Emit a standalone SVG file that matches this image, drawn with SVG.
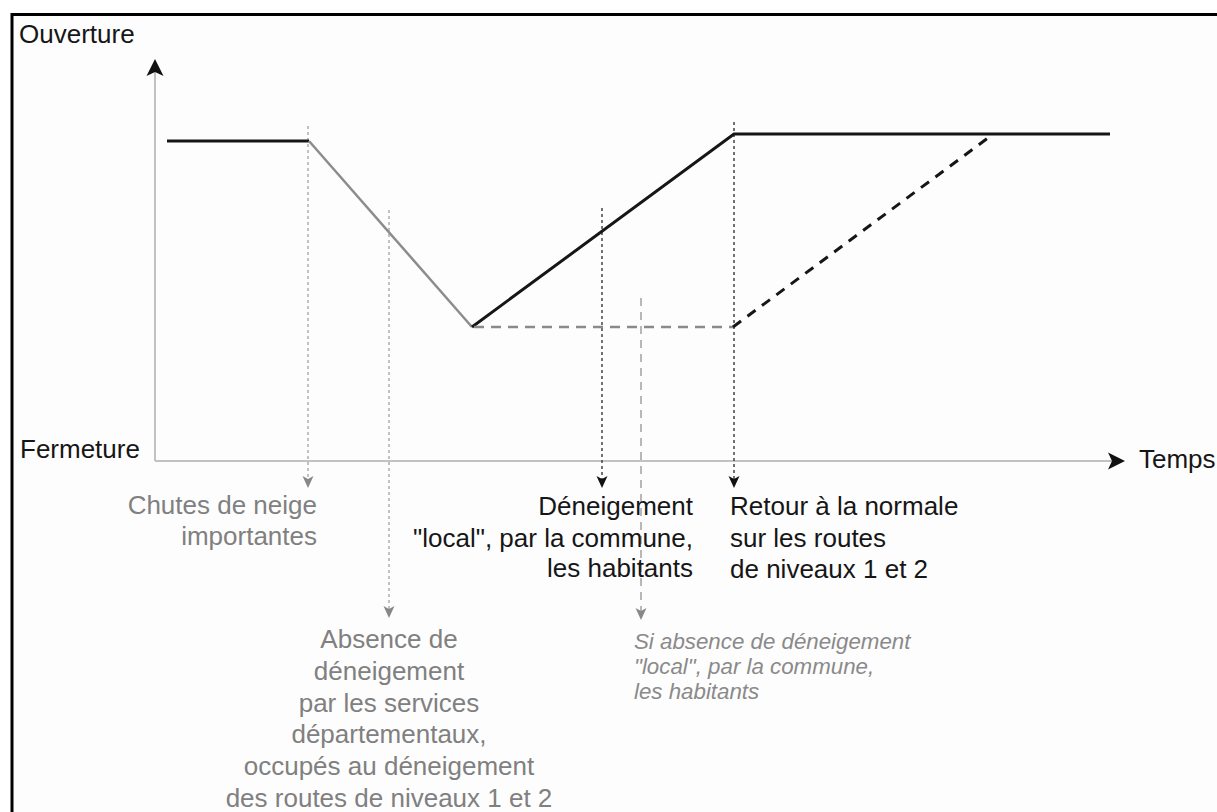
<svg xmlns="http://www.w3.org/2000/svg" width="1217" height="812" viewBox="0 0 1217 812">
<style>
text{font-family:"Liberation Sans",Arial,sans-serif;font-size:26px}
.blk{fill:#161616}
.gry{fill:#808080}
.it{font-style:italic;font-size:22.3px;fill:#8a8a8a}
.axis{stroke:#c2c2c2;stroke-width:2;fill:none}
.solid{stroke:#161616;stroke-width:3;fill:none}
.fall{stroke:#8c8c8c;stroke-width:2.5;fill:none}
.dashg{stroke:#8a8a8a;stroke-width:2.5;fill:none;stroke-dasharray:10 7}
.dashk{stroke:#161616;stroke-width:3;fill:none;stroke-dasharray:10 8}
.dotg{stroke:#9a9a9a;stroke-width:1.2;fill:none;stroke-dasharray:3 3}
.dotk{stroke:#444;stroke-width:1.5;fill:none;stroke-dasharray:3 3}
.lng{stroke:#a0a0a0;stroke-width:1.5;fill:none;stroke-dasharray:8 6}
</style>
<defs>
<marker id="axArr" viewBox="0 -9 17 18" markerWidth="17" markerHeight="18" refX="4" refY="0" orient="auto" markerUnits="userSpaceOnUse"><path d="M0,-8.5 L17,0 L0,8.5 L4,0 Z" fill="#111"/></marker>
<marker id="arK" viewBox="0 -6 12 12" markerWidth="12" markerHeight="12" refX="3" refY="0" orient="auto" markerUnits="userSpaceOnUse"><path d="M0,-5.5 L12,0 L0,5.5 L3,0 Z" fill="#111"/></marker>
<marker id="arG" viewBox="0 -6 12 12" markerWidth="12" markerHeight="12" refX="3" refY="0" orient="auto" markerUnits="userSpaceOnUse"><path d="M0,-5.5 L12,0 L0,5.5 L3,0 Z" fill="#888"/></marker>
</defs>
<rect x="0" y="0" width="1217" height="812" fill="#fff"/>
<rect x="12" y="14.5" width="1230" height="830" fill="#fdfdfd" stroke="#000" stroke-width="3"/>

<g id="connectors">
<line class="axis" x1="155" y1="461" x2="155" y2="72" marker-end="url(#axArr)"/>
<line class="axis" x1="155" y1="461" x2="1112" y2="461" marker-end="url(#axArr)"/>
<line class="dotg" x1="308" y1="126" x2="308" y2="479" marker-end="url(#arG)"/>
<line class="dotg" x1="389" y1="210" x2="389" y2="609" marker-end="url(#arG)"/>
<line class="dotk" x1="602" y1="208" x2="602" y2="479" marker-end="url(#arK)"/>
<line class="lng" x1="641" y1="298" x2="641" y2="611" marker-end="url(#arG)"/>
<line class="dotk" x1="734" y1="122" x2="734" y2="479" marker-end="url(#arK)"/>
<polyline class="solid" points="167,141 309,141"/>
<line class="fall" x1="309" y1="141" x2="472" y2="327"/>
<polyline class="solid" points="472,327 734,134 1110,134"/>
<line class="dashg" x1="474" y1="327" x2="733" y2="327"/>
<line class="dashk" x1="733" y1="327" x2="992" y2="135"/>
</g>

<g id="axis-labels">
<text class="blk" x="19" y="43">Ouverture</text>
<text class="blk" x="20" y="458">Fermeture</text>
<text class="blk" x="1139" y="468">Temps</text>
</g>

<g id="chutes">
<text class="gry" text-anchor="end" x="317" y="514">Chutes de neige</text>
<text class="gry" text-anchor="end" x="317" y="545">importantes</text>
</g>

<g id="absence">
<text class="gry" text-anchor="middle" x="389" y="648">Absence de</text>
<text class="gry" text-anchor="middle" x="389" y="680">déneigement</text>
<text class="gry" text-anchor="middle" x="389" y="712">par les services</text>
<text class="gry" text-anchor="middle" x="389" y="743">départementaux,</text>
<text class="gry" text-anchor="middle" x="389" y="775">occupés au déneigement</text>
<text class="gry" text-anchor="middle" x="389" y="807">des routes de niveaux 1 et 2</text>
</g>

<g id="deneigement">
<text class="blk" text-anchor="end" x="693" y="515">Déneigement</text>
<text class="blk" text-anchor="end" x="693" y="547">"local", par la commune,</text>
<text class="blk" text-anchor="end" x="693" y="577">les habitants</text>
</g>

<g id="retour">
<text class="blk" x="730" y="515">Retour à la normale</text>
<text class="blk" x="730" y="547">sur les routes</text>
<text class="blk" x="730" y="578">de niveaux 1 et 2</text>
</g>

<g id="si-absence">
<text class="it" x="634" y="649">Si absence de déneigement</text>
<text class="it" x="634" y="674">"local", par la commune,</text>
<text class="it" x="634" y="699">les habitants</text>
</g>
</svg>
